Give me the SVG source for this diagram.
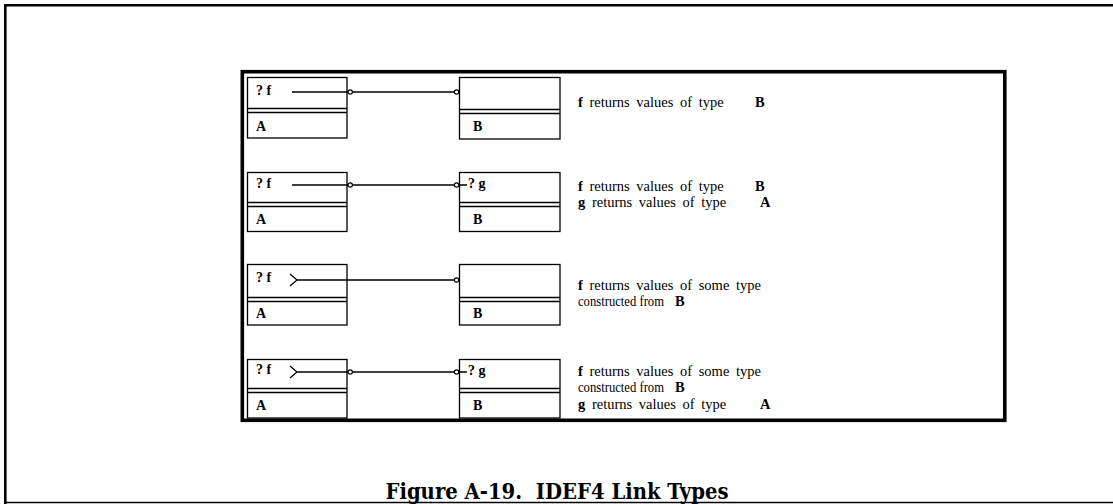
<svg xmlns="http://www.w3.org/2000/svg" width="1113" height="504" viewBox="0 0 1113 504">
<style>
.frame{fill:none;stroke:#000}
.box{fill:#fff;stroke:#000;stroke-width:1.3}
.ln{fill:none;stroke:#000;stroke-width:1.3}
.circ{fill:#fff;stroke:#000;stroke-width:1.2}
.lbl{font-family:"Liberation Serif",serif;font-size:14px;font-weight:bold;fill:#000}
.desc{font-family:"Liberation Serif",serif;font-size:14.5px;fill:#000}
.ws{word-spacing:3px}
.b{font-weight:bold}
.cap{font-family:"DejaVu Serif","Liberation Serif",serif;font-size:22px;font-weight:bold;fill:#000}
</style>
<rect width="1113" height="504" fill="#fff"/>
<path class="frame" d="M5.3,504 V5.2 H1113" stroke-width="2.6"/>
<path class="frame" d="M5,502.5 H1113" stroke-width="1.5"/>
<rect class="frame" x="242.3" y="71.7" width="762.5" height="348.6" stroke-width="3.6"/>

<g id="row1">
<g id="A1">
<rect class="box" x="247.5" y="77.5" width="99.5" height="60.5"/>
<path class="ln" d="M247,108.5 H347 M247,112.5 H347"/>
<text class="lbl" x="256" y="95">? f</text>
<text class="lbl" x="256" y="131">A</text>
</g>
<g id="B1">
<rect class="box" x="459.5" y="77.5" width="100.5" height="61.5"/>
<path class="ln" d="M459,109.5 H560 M459,113.5 H560"/>
<text class="lbl" x="473" y="131">B</text>
</g>
<text class="desc ws" x="578" y="107"><tspan class="b">f</tspan> returns values of type</text>
<text class="desc b" x="755" y="107">B</text>
</g>

<g id="row2">
<g id="A2">
<rect class="box" x="247.5" y="172.5" width="99.5" height="59"/>
<path class="ln" d="M247,202.5 H347 M247,206.5 H347"/>
<text class="lbl" x="256" y="188">? f</text>
<text class="lbl" x="256" y="224">A</text>
</g>
<g id="B2">
<rect class="box" x="459.5" y="172.5" width="100.5" height="59"/>
<path class="ln" d="M459,202.5 H560 M459,206.5 H560"/>
<text class="lbl" x="468" y="188">? g</text>
<text class="lbl" x="473" y="224">B</text>
</g>
<text class="desc ws" x="578" y="191"><tspan class="b">f</tspan> returns values of type</text>
<text class="desc b" x="755" y="191">B</text>
<text class="desc ws" x="578" y="207"><tspan class="b">g</tspan> returns values of type</text>
<text class="desc b" x="760" y="207">A</text>
</g>

<g id="row3">
<g id="A3">
<rect class="box" x="247.5" y="264.5" width="99.5" height="60.5"/>
<path class="ln" d="M247,297.5 H347 M247,301.5 H347"/>
<text class="lbl" x="256" y="282">? f</text>
<text class="lbl" x="256" y="318">A</text>
</g>
<g id="B3">
<rect class="box" x="459.5" y="264.5" width="100.5" height="60.5"/>
<path class="ln" d="M459,297.5 H560 M459,301.5 H560"/>
<text class="lbl" x="473" y="318">B</text>
</g>
<text class="desc ws" x="578" y="290"><tspan class="b">f</tspan> returns values of some type</text>
<text class="desc" x="578" y="306" textLength="86" lengthAdjust="spacingAndGlyphs">constructed from</text>
<text class="desc b" x="675" y="306">B</text>
</g>

<g id="row4">
<g id="A4">
<rect class="box" x="247.5" y="359.5" width="99.5" height="58.5"/>
<path class="ln" d="M247,388.5 H347 M247,392.5 H347"/>
<text class="lbl" x="256" y="374">? f</text>
<text class="lbl" x="256" y="410">A</text>
</g>
<g id="B4">
<rect class="box" x="459.5" y="359.5" width="100.5" height="58.5"/>
<path class="ln" d="M459,388.5 H560 M459,392.5 H560"/>
<text class="lbl" x="468" y="375">? g</text>
<text class="lbl" x="473" y="410">B</text>
</g>
<text class="desc ws" x="578" y="376"><tspan class="b">f</tspan> returns values of some type</text>
<text class="desc" x="578" y="392" textLength="86" lengthAdjust="spacingAndGlyphs">constructed from</text>
<text class="desc b" x="675" y="392">B</text>
<text class="desc ws" x="578" y="409"><tspan class="b">g</tspan> returns values of type</text>
<text class="desc b" x="760" y="409">A</text>
</g>

<g id="connectors">
<path class="ln" d="M292,92 H348 M352.5,92 H454.3"/>
<circle class="circ" cx="350.2" cy="92" r="2.2"/>
<circle class="circ" cx="456.6" cy="92" r="2.2"/>

<path class="ln" d="M292,185 H348 M352.5,185 H454.3 M458.9,185 H467"/>
<circle class="circ" cx="350.2" cy="185" r="2.2"/>
<circle class="circ" cx="456.6" cy="185" r="2.2"/>

<path class="ln" d="M290,274 L297,280 L290,286 M297,280 H454.3"/>
<circle class="circ" cx="456.6" cy="280" r="2.2"/>

<path class="ln" d="M290,366 L297,372 L290,378 M297,372 H348 M352.5,372 H454.3 M458.9,372 H467"/>
<circle class="circ" cx="350.2" cy="372" r="2.2"/>
<circle class="circ" cx="456.6" cy="372" r="2.2"/>
</g>

<text class="cap" x="557" y="499" text-anchor="middle" textLength="343" lengthAdjust="spacingAndGlyphs">Figure A-19.&#160; IDEF4 Link Types</text>
</svg>
